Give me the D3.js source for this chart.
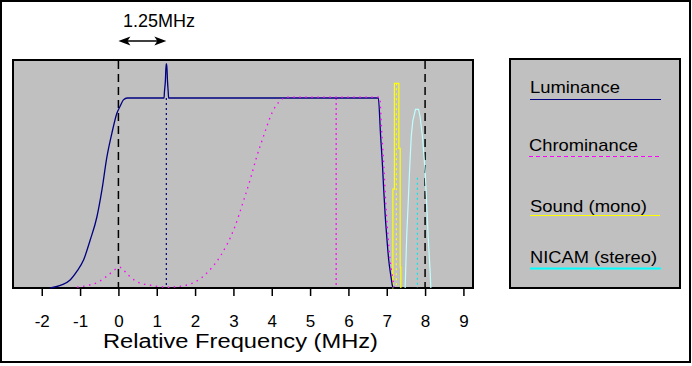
<!DOCTYPE html>
<html>
<head>
<meta charset="utf-8">
<script src="https://cdn.jsdelivr.net/npm/d3@7"></script>
<style>
  html, body { margin: 0; padding: 0; background: #fff; }
  svg { display: block; font-family: "Liberation Sans", Arial, sans-serif; }
</style>
</head>
<body>
<script>
// Spectrum data (frequency in MHz relative to channel edge, level relative to vision flat)
const lumFreq  = [-1.78, -1.48, -1.26, -1.09, -0.91, -0.74, -0.56, -0.43, -0.30, -0.17, -0.04, 0.04, 0.13, 0.23,
                  1.19, 1.20, 1.225, 1.245, 1.26, 1.28, 1.30, 1.31,
                  6.78, 6.84, 6.89, 6.92, 6.96, 7.00, 7.05, 7.11, 7.15, 7.17];
const lumLevel = [0, 0.016, 0.042, 0.086, 0.147, 0.25, 0.375, 0.516, 0.69, 0.815, 0.92, 0.955, 0.99, 1.0,
                  1.0, 1.03, 1.09, 1.18, 1.18, 1.09, 1.03, 1.0,
                  1.0, 0.80, 0.64, 0.52, 0.38, 0.27, 0.15, 0.06, 0.01, 0];

const chromaFreq  = [-1.09, -0.8, -0.56, -0.3, -0.08, 0.04, 0.22, 0.48, 0.83, 1.27, 1.7, 1.96, 2.35, 2.65, 3.0,
                     3.26, 3.44, 3.57, 3.78, 4.0, 4.2, 4.39,
                     6.80, 6.86, 6.91, 6.94, 6.98, 7.02, 7.07, 7.13, 7.18];
const chromaLevel = [0, 0.01, 0.025, 0.06, 0.095, 0.104, 0.068, 0.028, 0.01, 0, 0.008, 0.025, 0.086, 0.165, 0.305,
                     0.46, 0.577, 0.67, 0.80, 0.92, 0.98, 1.0,
                     1.0, 0.80, 0.64, 0.52, 0.38, 0.27, 0.15, 0.06, 0];

const soundFreq  = [7.14, 7.16, 7.20, 7.315, 7.35, 7.367];
const soundLevel = [0, 0.52, 1.077, 0.735, 0.11, 0];

const nicamFreq  = [7.48, 7.52, 7.56, 7.60, 7.64, 7.68, 7.75, 7.83, 7.87, 7.93, 8.00, 8.04, 8.08, 8.13, 8.15];
const nicamLevel = [0, 0.27, 0.45, 0.64, 0.80, 0.88, 0.94, 0.94, 0.90, 0.80, 0.62, 0.45, 0.27, 0.095, 0];

// carriers: vision, colour subcarrier, sound, NICAM
const carrierFreq  = [1.25, 5.68, 7.25, 7.8];
const carrierLevel = [1.0, 1.0, 1.077, 0.58];

const channelEdges = [0, 8];
const tickValues = [-2, -1, 0, 1, 2, 3, 4, 5, 6, 7, 8, 9];
const legendLabels = ["Luminance", "Chrominance", "Sound (mono)", "NICAM (stereo)"];

const W = 692, H = 366;
const plot = { x0: 13, x1: 473, y0: 60, y1: 288 };

const svg = d3.select("body").append("svg").attr("width", W).attr("height", H);

// outer frame
svg.append("rect").attr("x", 1).attr("y", 1).attr("width", 689).attr("height", 361)
  .attr("fill", "#fff").attr("stroke", "#000").attr("stroke-width", 2);

const x = d3.scaleLinear().domain([-2.75, 9.25]).range([plot.x0, plot.x1]);
const y = d3.scaleLinear().domain([0, 1.2]).range([plot.y1, plot.y0]);

svg.append("rect").attr("x", plot.x0).attr("y", plot.y0)
  .attr("width", plot.x1 - plot.x0).attr("height", plot.y1 - plot.y0)
  .attr("fill", "#c0c0c0").attr("stroke", "#000").attr("stroke-width", 2);

const line = d3.line().x(d => x(d[0])).y(d => y(d[1]));
const smooth = d3.line().x(d => x(d[0])).y(d => y(d[1])).curve(d3.curveMonotoneX);
const step = d3.line().x(d => x(d[0])).y(d => y(d[1])).curve(d3.curveStepAfter);
const zip = (a, b) => a.map((v, i) => [v, b[i]]);

// channel edges
svg.selectAll(".edge").data(channelEdges).enter().append("line")
  .attr("x1", d => x(d)).attr("x2", d => x(d))
  .attr("y1", plot.y0 + 1).attr("y2", plot.y1)
  .attr("stroke", "#000").attr("stroke-width", 1.5).attr("stroke-dasharray", "8,5");

// carrier markers
const carrierColors = ["#000080", "#ff00ff", "#ffff00", "#00e8e8"];
svg.selectAll(".carrier").data(carrierFreq).enter().append("line")
  .attr("x1", d => x(d)).attr("x2", d => x(d))
  .attr("y1", (d, i) => y(carrierLevel[i])).attr("y2", plot.y1)
  .attr("stroke", (d, i) => carrierColors[i]).attr("stroke-width", 1.2)
  .attr("stroke-dasharray", "2,3");

// NICAM
svg.append("path").datum(zip(nicamFreq, nicamLevel))
  .attr("d", line).attr("fill", "none").attr("stroke", "#c0ffff").attr("stroke-width", 1.2);

// Sound
svg.append("path").datum(zip(soundFreq, soundLevel))
  .attr("d", step).attr("fill", "none")
  .attr("stroke", "#ffff00").attr("stroke-width", 1.2);

// Luminance
svg.append("path").datum(zip(lumFreq, lumLevel))
  .attr("d", smooth).attr("fill", "none").attr("stroke", "#000080").attr("stroke-width", 1.3);

// Chrominance
svg.append("path").datum(zip(chromaFreq, chromaLevel))
  .attr("d", smooth).attr("fill", "none").attr("stroke", "#ff00ff")
  .attr("stroke-width", 1.4).attr("stroke-dasharray", "1.5,4.5")
  .attr("transform", "translate(0.5,-0.8)");

// x axis
const axis = svg.append("g").attr("transform", `translate(0,${plot.y1})`)
  .call(d3.axisBottom(x).tickValues(tickValues).tickSize(8).tickSizeOuter(0).tickFormat(d3.format("d")));
axis.select(".domain").remove();
axis.selectAll(".tick line").attr("stroke", "#000").attr("stroke-width", 1.5);
axis.selectAll(".tick text").attr("y", 38.7).attr("dy", null)
  .attr("fill", "#000").style("font-size", "17px").style("font-family", "Liberation Sans, Arial, sans-serif")
  .text(d => d < 0 ? "-" + Math.abs(d) : d);

svg.append("text").attr("x", 240.5).attr("y", 347.5).attr("text-anchor", "middle")
  .attr("textLength", 275).attr("lengthAdjust", "spacingAndGlyphs")
  .style("font-size", "20px").text("Relative Frequency (MHz)");

// 1.25MHz annotation
svg.append("text").attr("x", 159).attr("y", 27).attr("text-anchor", "middle")
  .style("font-size", "18px").text("1.25MHz");
const ay = 41, a0 = x(0), a1 = x(carrierFreq[0]);
svg.append("line").attr("x1", a0 + 4).attr("x2", a1 - 4).attr("y1", ay).attr("y2", ay)
  .attr("stroke", "#000").attr("stroke-width", 1.5);
svg.append("path").attr("d", `M${a0},${ay}L${a0 + 12},${ay - 4.5}L${a0 + 9},${ay}L${a0 + 12},${ay + 4.5}Z`);
svg.append("path").attr("d", `M${a1},${ay}L${a1 - 12},${ay - 4.5}L${a1 - 9},${ay}L${a1 - 12},${ay + 4.5}Z`);

// legend
svg.append("rect").attr("x", 510).attr("y", 59).attr("width", 170).attr("height", 229)
  .attr("fill", "#c0c0c0").attr("stroke", "#000").attr("stroke-width", 2);
const legendLayout = [
  { y: 93.3, len: 90, line: 99.5, x2: 661, color: "#000080", w: 1.2, dash: null },
  { y: 150.7, len: 109, line: 156.5, x2: 661, color: "#ff00ff", w: 1.2, dash: "4,3" },
  { y: 211.7, len: 117, line: 215.5, x2: 660, color: "#ffff00", w: 1.2, dash: null },
  { y: 263.3, len: 127, line: 268.5, x2: 661, color: "#00ffff", w: 2, dash: null }
];
const lg = svg.selectAll(".lg").data(legendLabels).enter().append("g");
lg.append("text").attr("x", (d, i) => i === 1 ? 529 : 530).attr("y", (d, i) => legendLayout[i].y)
  .attr("textLength", (d, i) => legendLayout[i].len).attr("lengthAdjust", "spacingAndGlyphs")
  .style("font-size", "17px").text(d => d);
lg.append("line").attr("x1", (d, i) => i === 1 ? 529 : 530).attr("x2", (d, i) => legendLayout[i].x2)
  .attr("y1", (d, i) => legendLayout[i].line).attr("y2", (d, i) => legendLayout[i].line)
  .attr("stroke", (d, i) => legendLayout[i].color).attr("stroke-width", (d, i) => legendLayout[i].w)
  .attr("stroke-dasharray", (d, i) => legendLayout[i].dash);
</script>
</body>
</html>
